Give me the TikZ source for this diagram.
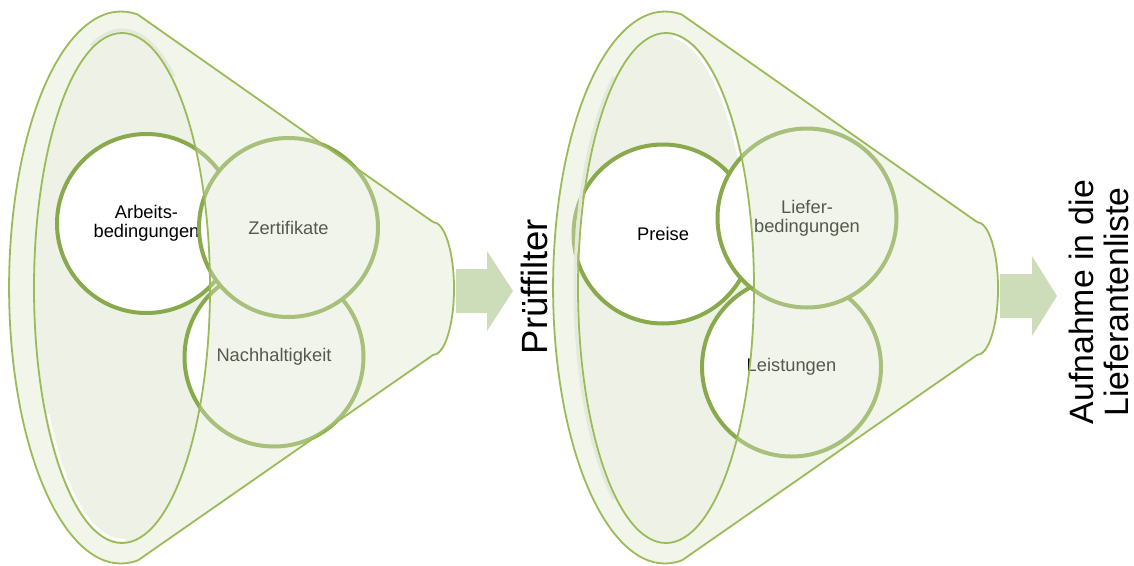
\documentclass[tikz,border=0pt]{standalone}
\usepackage{fontspec}
\setmainfont{Liberation Sans}
\definecolor{fline}{HTML}{9BBB59}
\definecolor{cline}{HTML}{89AA4C}
\definecolor{lipfill}{HTML}{EDF1E6}
\definecolor{ovl}{HTML}{DAE5C9}
\definecolor{arrcol}{HTML}{CDDCB9}
\definecolor{shadecol}{HTML}{E4E9DB}
\tikzset{
  funnelshape/.style={insert path={(138,14.7) -- (433,222)
      arc[start angle=-90, end angle=90, x radius=21, y radius=66.5]
      -- (138,560.3)
      arc[start angle=81.3, end angle=278.7, x radius=112, y radius=276] -- cycle}},
  lipshape/.style={insert path={(122,288) ellipse[x radius=88, y radius=255]}},
  circnode/.style={circle, draw=cline, line width=4pt, fill=white,
      minimum size=179pt, inner sep=0pt, align=center, text=black,
      font=\fontsize{18.3}{19}\selectfont},
  outline/.style={draw=fline, line width=1.8pt, line join=round},
  overlay/.style={fill=ovl, fill opacity=0.39, even odd rule},
  blockarrow/.style={fill=arrcol},
  sidetext/.style={rotate=90, inner sep=0pt, text=black}
}
\begin{document}
\begin{tikzpicture}[x=1pt, y=-1pt]
\useasboundingbox (0,0) rectangle (1134,565);

% ---------- lip fills ----------
\fill[lipfill, lipshape];
\begin{scope}[shift={(544,0)}]
  \fill[lipfill, lipshape];
\end{scope}
% highlights inside lips
\draw[white, line width=2.5pt] ([shift={(88:85 and 252)}]122,288)
   arc[start angle=88, end angle=150, x radius=85, y radius=252];
\draw[white, line width=2.5pt] ([shift={(-85:85 and 252)}]666,288)
   arc[start angle=-85, end angle=-30, x radius=85, y radius=252];

% ---------- circles funnel 1 ----------
\node[circnode] (nach) at (274,357) {Nachhaltigkeit};
\node[circnode] (arb)  at (146.5,223.5) {Arbeits-\\bedingungen};
\node[circnode] (zer)  at (288.5,227.5) {Zertifikate};

% ---------- circles funnel 2 ----------
\node[circnode] (leis) at (791.5,367) {Leistungen};
\node[circnode] (pre)  at (663,234) {Preise};
\node[circnode] (lief) at (807,218) {Liefer-\\bedingungen};

% ---------- translucent funnel bodies ----------
\fill[overlay, funnelshape, lipshape];
\begin{scope}[shift={(544,0)}]
  \fill[overlay, funnelshape, lipshape];
\end{scope}

% soft shadows outside the lips
\draw[shadecol, line width=3pt] ([shift={(-110:91 and 258)}]122,288)
   arc[start angle=-110, end angle=-55, x radius=91, y radius=258];
\draw[shadecol, line width=3pt] ([shift={(-125:91 and 258)}]666,288)
   arc[start angle=-125, end angle=-235, x radius=91, y radius=258];

% ---------- outlines ----------
\draw[outline, funnelshape];
\draw[outline, lipshape];
\begin{scope}[shift={(544,0)}]
  \draw[outline, funnelshape];
  \draw[outline, lipshape];
\end{scope}

% ---------- block arrows ----------
\fill[blockarrow] (456,269) -- (487,269) -- (487,251) -- (513,291)
   -- (487,331) -- (487,313) -- (456,313) -- cycle;
\fill[blockarrow] (1000,274) -- (1032,274) -- (1032,256) -- (1057,296)
   -- (1032,336) -- (1032,318) -- (1000,318) -- cycle;

% ---------- side labels ----------
\node[sidetext, anchor=base, font=\fontsize{36.5}{40}\selectfont] (pf) at (547,286.5) {Prüffilter};
\node[sidetext, anchor=north, align=center, font=\fontsize{33.8}{35}\selectfont] (auf) at (1069,302) {Aufnahme in die\\Lieferantenliste};
\end{tikzpicture}
\end{document}
